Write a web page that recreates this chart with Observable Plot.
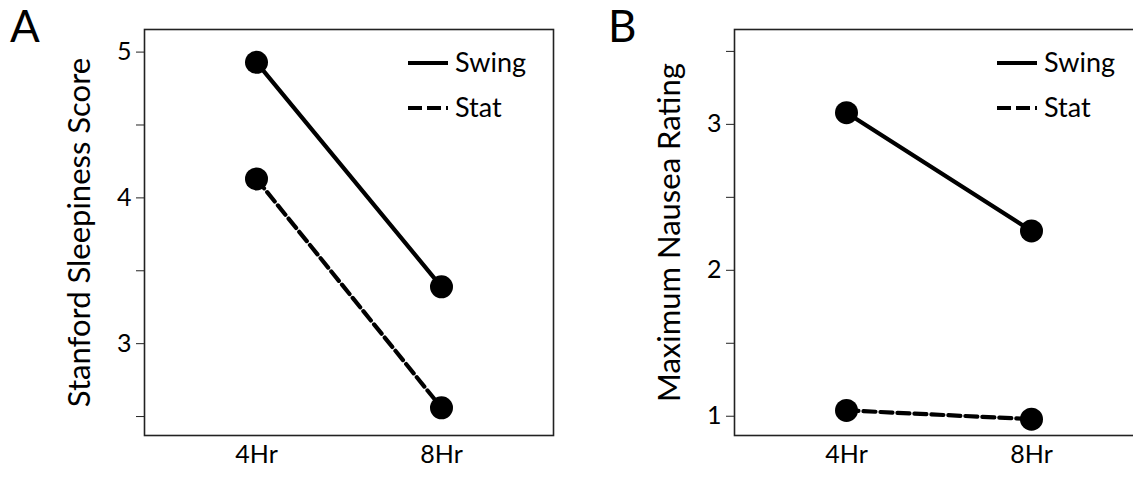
<!DOCTYPE html>
<html>
<head>
<meta charset="utf-8">
<script src="https://cdn.jsdelivr.net/npm/d3@7"></script>
<script src="https://cdn.jsdelivr.net/npm/@observablehq/plot@0.6"></script>
<style>
  html, body { margin: 0; padding: 0; background: #fff; overflow: hidden; }
  #wrap { position: relative; width: 1133px; height: 478px; overflow: hidden; }
  .panel { position: absolute; top: 0; }
  .panel svg { max-width: none !important; overflow: visible; }
  #overlay { position: absolute; left: 0; top: 0; pointer-events: none; }
</style>
</head>
<body>
<div id="wrap">
  <div class="panel" id="panelA" style="left:0px"></div>
  <div class="panel" id="panelB" style="left:566px"></div>
</div>
<script>
// ---- data ----
const times = ["4Hr", "8Hr"];
const seriesNames = ["Swing", "Stat"];
const sleepSwing = [4.93, 3.39];
const sleepStat = [4.13, 2.56];
const nauseaSwing = [3.08, 2.27];
const nauseaStat = [1.04, 0.98];
const sleepTicks = [2.5, 3, 3.5, 4, 4.5, 5];
const nauseaTicks = [1, 1.5, 2, 2.5, 3, 3.5];
const panelLetters = ["A", "B"];
const sleepLabel = "Stanford Sleepiness Score";
const nauseaLabel = "Maximum Nausea Rating";

const FONT = "Lato, 'Open Sans', sans-serif";

function rows(swing, stat) {
  const out = [];
  times.forEach((t, i) => {
    out.push({time: t, value: swing[i], series: seriesNames[0]});
    out.push({time: t, value: stat[i], series: seriesNames[1]});
  });
  return out;
}

function makePanel({data, ticks, domain, label, width, marginLeft, marginRight}) {
  return Plot.plot({
    width, height: 478,
    marginLeft, marginRight, marginTop: 29, marginBottom: 43,
    style: {fontFamily: FONT, fontSize: "25px", color: "#000", background: "transparent"},
    x: {type: "point", domain: times, padding: 0.6},
    y: {domain},
    marks: [
      Plot.frame({stroke: "#222", strokeWidth: 1.6}),
      Plot.axisX({tickSize: 0, tickPadding: 10, label: null, fontSize: 25}),
      Plot.axisY({ticks, tickSize: 8, tickPadding: 5, stroke: "#222",
        tickFormat: d => Number.isInteger(d) ? String(d) : "",
        label: null, fontSize: 25}),
      Plot.text([label], {frameAnchor: "left", rotate: -90, dx: -77, lineAnchor: "top", textAnchor: "middle",
        fontSize: 31, fill: "#000"}),
      Plot.line(data.filter(d => d.series === "Swing"), {x: "time", y: "value", stroke: "#000", strokeWidth: 4.2}),
      Plot.line(data.filter(d => d.series === "Stat"), {x: "time", y: "value", stroke: "#000", strokeWidth: 4.2, strokeDasharray: "12,5"}),
      Plot.dot(data, {x: "time", y: "value", r: 11.5, fill: "#000", stroke: "none"})
    ]
  });
}

const A = makePanel({data: rows(sleepSwing, sleepStat), ticks: sleepTicks, domain: [2.37, 5.155],
  label: sleepLabel, width: 566, marginLeft: 144, marginRight: 13});
const B = makePanel({data: rows(nauseaSwing, nauseaStat), ticks: nauseaTicks, domain: [0.868, 3.65],
  label: nauseaLabel, width: 580, marginLeft: 168, marginRight: 4});
document.getElementById("panelA").appendChild(A);
document.getElementById("panelB").appendChild(B);

// ---- overlay: panel letters and legends ----
const ov = d3.select("#wrap").append("svg").attr("id", "overlay")
  .attr("width", 1133).attr("height", 478);
const letterX = [10, 608];
panelLetters.forEach((L, i) => {
  ov.append("text").attr("x", letterX[i]).attr("y", 42)
    .attr("font-family", FONT).attr("font-size", 44).attr("fill", "#000").text(L);
});
const legendX = [408, 997];
legendX.forEach(x0 => {
  const g = ov.append("g").attr("transform", `translate(${x0},0)`);
  const ys = [63, 108];
  seriesNames.forEach((s, i) => {
    g.append("line").attr("x1", 0).attr("x2", 40).attr("y1", ys[i]).attr("y2", ys[i])
      .attr("stroke", "#000").attr("stroke-width", 4)
      .attr("stroke-dasharray", i === 1 ? "14,5" : null);
    g.append("text").attr("x", 47).attr("y", ys[i] + 9)
      .attr("font-family", FONT).attr("font-size", 27).attr("fill", "#000").text(s);
  });
});
</script>
</body>
</html>
